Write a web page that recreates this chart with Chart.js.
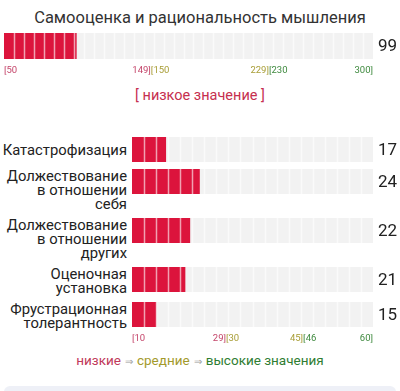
<!DOCTYPE html>
<html lang="ru">
<head>
<meta charset="utf-8">
<script src="https://cdn.jsdelivr.net/npm/chart.js@4/dist/chart.umd.min.js"></script>
<style>
  html, body { margin: 0; padding: 0; background: #fff; }
  body { width: 400px; height: 391px; position: relative; overflow: hidden; font-family: Roboto, "Noto Sans", sans-serif; color: #222; }
  .title { position: absolute; top: 6px; left: 0; width: 400px; text-align: center; font-size: 16.5px; line-height: 24px; color: #333; }
  .top-wrap { position: absolute; left: 0; top: 28px; width: 400px; height: 50px; }
  .verdict { position: absolute; top: 86px; left: 0; width: 400px; text-align: center; font-size: 14.5px; line-height: 20px; color: #c62f4f; }
  .rows { position: absolute; top: 137px; left: 0; width: 400px; }
  .row { display: flex; align-items: flex-start; margin-bottom: 7px; }
  .lbl { width: 127px; min-height: 25px; display: flex; align-items: center; justify-content: flex-end; text-align: right; font-size: 14.8px; line-height: 14px; color: #222; }
  .bar { width: 273px; height: 25px; position: relative; }
  .bar.last { height: 42px; }
  .legend { position: absolute; top: 350px; left: 0; width: 400px; text-align: center; font-size: 13.5px; line-height: 20px; }
  .legend .arr { color: #999; font-size: 10px; margin: 0 4px; }
  .footer { position: absolute; top: 386px; left: 4px; width: 392px; height: 20px; background: #eef0f7; border-radius: 6px; }
</style>
</head>
<body>
<div class="title" id="title"></div>
<div class="top-wrap"><canvas id="topChart"></canvas></div>
<div class="verdict" id="verdict"></div>
<div class="rows" id="rows"></div>
<div class="legend">
  <span style="color:#c0395a">низкие</span><span class="arr">⇒</span><span style="color:#a39a2c">средние</span><span class="arr">⇒</span><span style="color:#2f7d32">высокие значения</span>
</div>
<div class="footer"></div>
<script>
// ===== DATA =====
const topTitle = 'Самооценка и рациональность мышления';
const topValue = [99];
const topRange = [50, 300];
const topTickValues = [50, 149.5, 149.5, 229.5, 229.5, 300];
const topTickTexts = ['[50', '149]', '[150', '229]', '[230', '300]'];
const topVerdict = '[ низкое значение ]';

const scaleLabels = [
    ['Катастрофизация'],
    ['Должествование', 'в отношении', 'себя'],
    ['Должествование', 'в отношении', 'других'],
    ['Оценочная', 'установка'],
    ['Фрустрационная', 'толерантность']
];
const scaleValues = [17, 24, 22, 21, 15];
const scaleRange = [10, 60];
const scaleTickValues = [10, 29.5, 29.5, 45.5, 45.5, 60];
const scaleTickTexts = ['[10', '29]', '[30', '45]', '[46', '60]'];

// ===== STYLE =====
const RED = '#dc143c';
const GREY = '#f2f2f2';
const tickColors = ['#c4456a', '#c4456a', '#a89d35', '#a89d35', '#3f8a3f', '#3f8a3f'];
const tickAlign = ['left', 'right', 'left', 'right', 'left', 'right'];

// draws cell separators, value at the right and (optionally) range ticks below
const cellPlugin = {
    id: 'cells',
    afterDatasetsDraw(chart, args, opts) {
        const { ctx, chartArea } = chart;
        const x = chart.scales.x;
        const min = x.min, max = x.max;
        ctx.save();
        ctx.strokeStyle = 'rgba(255,255,255,0.6)';
        ctx.lineWidth = 1.5;
        for (let i = 1; i < opts.cells; i++) {
            const px = Math.round(x.getPixelForValue(min + i * (max - min) / opts.cells)) + 0.5;
            ctx.beginPath();
            ctx.moveTo(px, chartArea.top);
            ctx.lineTo(px, chartArea.bottom);
            ctx.stroke();
        }
        // value
        ctx.fillStyle = '#222';
        ctx.font = '17px Roboto';
        ctx.textAlign = 'left';
        ctx.textBaseline = 'middle';
        ctx.fillText(String(opts.value), chartArea.right + 5, (chartArea.top + chartArea.bottom) / 2 + 1);
        // range ticks
        if (opts.tickValues) {
            ctx.font = '9.5px Roboto';
            opts.tickValues.forEach((v, i) => {
                ctx.fillStyle = tickColors[i];
                ctx.textAlign = tickAlign[i];
                ctx.fillText(opts.tickTexts[i], x.getPixelForValue(v), chartArea.bottom + 12);
            });
        }
        ctx.restore();
    }
};

function makeBar(canvas, label, value, range, cells, padding, ticks) {
    return new Chart(canvas, {
        type: 'bar',
        data: {
            labels: [label],
            datasets: [
                { data: [[range[0], value]], backgroundColor: RED, order: 0, grouped: false, barPercentage: 1, categoryPercentage: 1 },
                { data: [[range[0], range[1]]], backgroundColor: GREY, order: 1, grouped: false, barPercentage: 1, categoryPercentage: 1 }
            ]
        },
        options: {
            indexAxis: 'y',
            responsive: true,
            maintainAspectRatio: false,
            animation: false,
            layout: { padding: padding },
            scales: {
                x: { min: range[0], max: range[1], display: false },
                y: { display: false }
            },
            plugins: {
                legend: { display: false },
                tooltip: { enabled: false },
                cells: {
                    cells: cells,
                    value: value,
                    tickValues: ticks ? ticks.values : null,
                    tickTexts: ticks ? ticks.texts : null
                }
            }
        },
        plugins: [cellPlugin]
    });
}

document.getElementById('title').textContent = topTitle;
document.getElementById('verdict').textContent = topVerdict;

// ===== TOP BAR =====
makeBar(document.getElementById('topChart'), topTitle, topValue[0], topRange, 37,
    { left: 4, right: 27, top: 5, bottom: 19 },
    { values: topTickValues, texts: topTickTexts });

// ===== SCALE ROWS =====
const rowsEl = document.getElementById('rows');
scaleLabels.forEach((lines, i) => {
    const row = document.createElement('div');
    row.className = 'row';
    const lbl = document.createElement('div');
    lbl.className = 'lbl';
    lbl.innerHTML = '<span>' + lines.join('<br>') + '</span>';
    const barDiv = document.createElement('div');
    const last = i === scaleLabels.length - 1;
    barDiv.className = last ? 'bar last' : 'bar';
    const canvas = document.createElement('canvas');
    barDiv.appendChild(canvas);
    row.appendChild(lbl);
    row.appendChild(barDiv);
    rowsEl.appendChild(row);
    makeBar(canvas, lines.join(' '), scaleValues[i], scaleRange, 20,
        { left: 5, right: 27, top: 0, bottom: last ? 17 : 0 },
        last ? { values: scaleTickValues, texts: scaleTickTexts } : null);
});
</script>
</body>
</html>
